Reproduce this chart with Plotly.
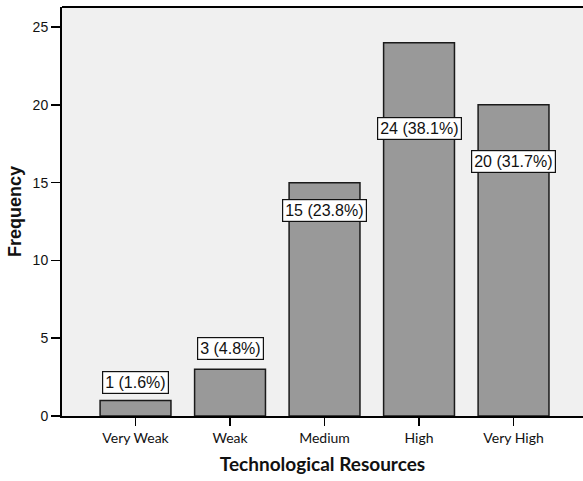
import plotly.graph_objects as go

# Technological resources ratings (counts and share of respondents)
categories = ["Very Weak", "Weak", "Medium", "High", "Very High"]
frequency = [1, 3, 15, 24, 20]
percent = [1.6, 4.8, 23.8, 38.1, 31.7]
y_ticks = [0, 5, 10, 15, 20, 25]

# Vertical pixel offset of each value label relative to the bar top
label_shift = [18, 21, -28, -86, -57]

fig = go.Figure()
fig.add_trace(go.Bar(
    x=categories,
    y=frequency,
    width=0.75,
    marker=dict(color="#999999", line=dict(color="#1a1a1a", width=1.5)),
    hoverinfo="skip",
))

for cat, f, p, s in zip(categories, frequency, percent, label_shift):
    fig.add_annotation(
        x=cat, y=f, yshift=s,
        text=f"{f} ({p}%)",
        showarrow=False,
        xanchor="center", yanchor="middle",
        font=dict(family="Liberation Sans, Arial", size=16, color="#111111"),
        bgcolor="white", bordercolor="#111111", borderwidth=1.2, borderpad=2,
    )

# Frame line along the top of the plotting area
fig.add_shape(type="line", xref="paper", yref="paper", x0=0, x1=1, y0=1, y1=1,
              line=dict(color="black", width=2), layer="above")

fig.update_layout(
    template="none",
    width=583, height=481,
    margin=dict(l=62, r=0, t=7, b=65),
    paper_bgcolor="white",
    plot_bgcolor="#f0f0f0",
    showlegend=False,
    bargap=0.25,
)

fig.update_xaxes(
    type="category",
    range=[-0.778, 4.735],
    showline=True, linecolor="black", linewidth=2,
    ticks="outside", ticklen=8, tickwidth=1.5, tickcolor="black",
    tickfont=dict(family="Lato, Carlito, sans-serif", size=14, color="#111111"),
    showgrid=False, zeroline=False,
    title=dict(text="<b>Technological Resources</b>",
               font=dict(family="Lato, Carlito, sans-serif", size=19, color="#111111"),
               standoff=13),
)

fig.update_yaxes(
    range=[0, 26.29],
    tickvals=y_ticks,
    showline=True, linecolor="black", linewidth=2,
    ticks="outside", ticklen=9, tickwidth=1.5, tickcolor="black",
    tickfont=dict(family="Liberation Sans, Arial", size=14, color="#111111"),
    showgrid=False, zeroline=False,
    title=dict(text="<b>Frequency</b>",
               font=dict(family="Liberation Sans, Arial", size=18, color="#111111"),
               standoff=6),
)

fig.write_html("out.html", config={"staticPlot": True, "displayModeBar": False})
